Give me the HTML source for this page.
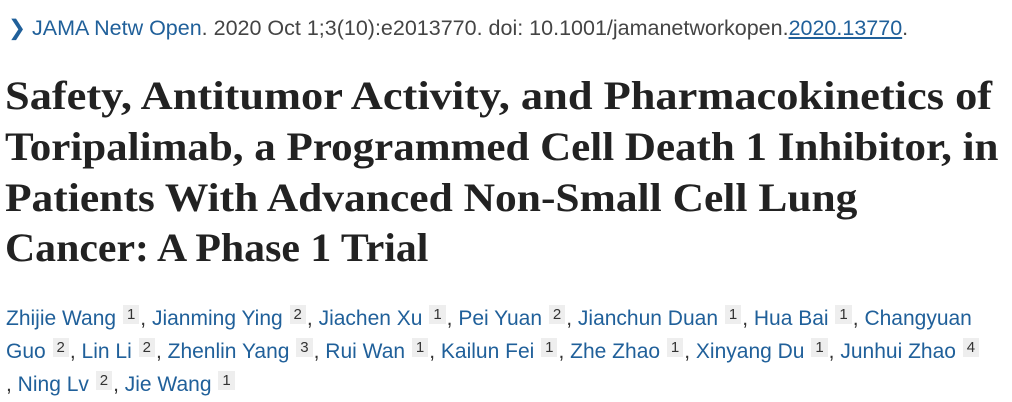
<!DOCTYPE html>
<html><head><style>
body{margin:0;width:1012px;height:402px;background:#fff;overflow:hidden;position:relative;font-family:"Liberation Sans",sans-serif}
.l{position:absolute;white-space:nowrap;transform-origin:0 0}
.cit{top:16px;left:8px;font-size:21.5px;color:#444}
.cit .b{color:#20609a}
.t{left:5px;font-family:"Liberation Serif",serif;font-weight:bold;font-size:40px;color:#222}
.a{left:6px;font-size:21px;color:#20609a}
.a sup{display:inline-block;background:#eee;color:#333;font-size:15px;padding:0 4px;vertical-align:6px;line-height:19px;margin:0 1px}
.a .c{color:#333}
</style></head><body>
<div class="l cit"><span class="b">&#10095; JAMA Netw Open</span>. 2020 Oct 1;3(10):e2013770. doi: 10.1001/jamanetworkopen.<span class="b" style="text-decoration:underline">2020.13770</span>.</div>
<div class="l t" style="top:72px;transform:scaleX(1.11)">Safety, Antitumor Activity, and Pharmacokinetics of</div>
<div class="l t" style="top:123px;transform:scaleX(1.075)">Toripalimab, a Programmed Cell Death 1 Inhibitor, in</div>
<div class="l t" style="top:174px;transform:scaleX(1.087)">Patients With Advanced Non-Small Cell Lung</div>
<div class="l t" style="top:224px;transform:scaleX(1.045)">Cancer: A Phase 1 Trial</div>
<div class="l a" style="top:305px">Zhijie Wang <sup>1</sup><span class="c">,</span> Jianming Ying <sup>2</sup><span class="c">,</span> Jiachen Xu <sup>1</sup><span class="c">,</span> Pei Yuan <sup>2</sup><span class="c">,</span> Jianchun Duan <sup>1</sup><span class="c">,</span> Hua Bai <sup>1</sup><span class="c">,</span> Changyuan</div>
<div class="l a" style="top:338px">Guo <sup>2</sup><span class="c">,</span> Lin Li <sup>2</sup><span class="c">,</span> Zhenlin Yang <sup>3</sup><span class="c">,</span> Rui Wan <sup>1</sup><span class="c">,</span> Kailun Fei <sup>1</sup><span class="c">,</span> Zhe Zhao <sup>1</sup><span class="c">,</span> Xinyang Du <sup>1</sup><span class="c">,</span> Junhui Zhao <sup>4</sup></div>
<div class="l a" style="top:371px"><span class="c">,</span> Ning Lv <sup>2</sup><span class="c">,</span> Jie Wang <sup>1</sup></div>
</body></html>
